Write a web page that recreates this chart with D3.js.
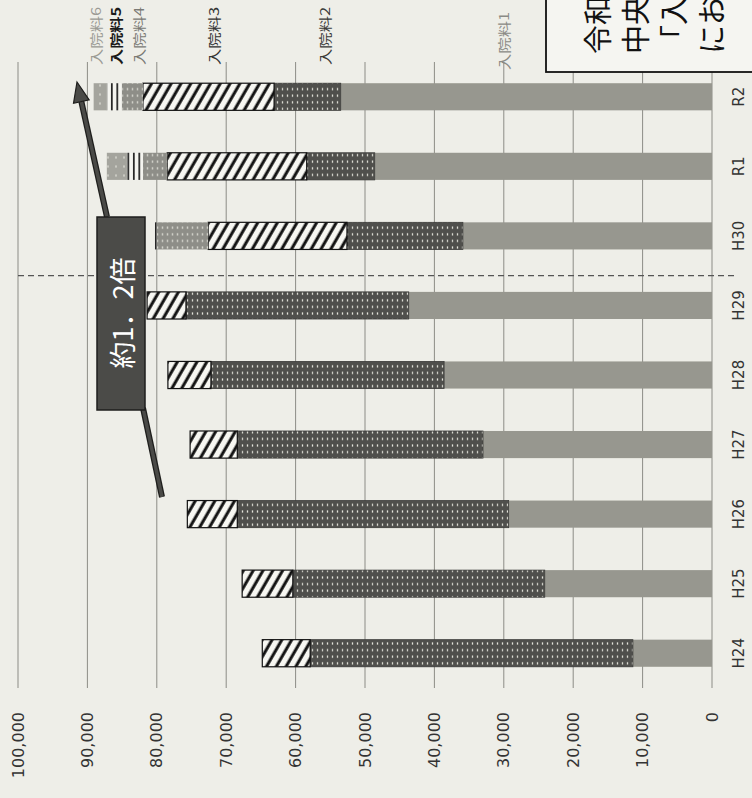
<!DOCTYPE html>
<html>
<head>
<meta charset="utf-8">
<script src="https://cdn.jsdelivr.net/npm/d3@7"></script>
<style>
  body { margin: 0; background: #eeeee8; }
  svg { display: block; }
</style>
</head>
<body>
<script>
// chart is a scanned page turned a quarter turn: values run right-to-left, years bottom-to-top
var categories = ["H24", "H25", "H26", "H27", "H28", "H29", "H30", "R1", "R2"];
var seriesNames = ["入院料1", "入院料2", "入院料3", "入院料4", "入院料5", "入院料6"];

var nyuin1 = [11400, 24100, 29300, 33000, 38600, 43700, 35900, 48600, 53500];
var nyuin2 = [46500, 36300, 39100, 35400, 33600, 32100, 16700, 9800, 9600];
var nyuin3 = [6900, 7300, 7200, 6800, 6200, 5600, 20000, 20100, 18900];
var nyuin4 = [0, 0, 0, 0, 0, 0, 7400, 3500, 3000];
var nyuin5 = [0, 0, 0, 0, 0, 0, 400, 2300, 2200];
var nyuin6 = [0, 0, 0, 0, 0, 0, 0, 2900, 1900];

var valueTicks = [0, 10000, 20000, 30000, 40000, 50000, 60000, 70000, 80000, 90000, 100000];
// where each series name sits along the value axis
var labelValues = [30100, 55900, 71800, 82700, 85900, 88900];

var width = 752;
var height = 798;

var svg = d3.select("body")
  .append("svg")
  .attr("width", width)
  .attr("height", height);

var x = d3.scaleLinear().domain([0, 100000]).range([712, 18]);
var y = d3.scaleBand()
  .domain(categories)
  .range([688, 62])
  .paddingInner(0.61)
  .paddingOuter(0.305);

// patterns
var defs = svg.append("defs");

function dots(id, w, h, base, dot, dw, dh) {
  var p = defs.append("pattern")
    .attr("id", id)
    .attr("patternUnits", "userSpaceOnUse")
    .attr("width", w)
    .attr("height", h);
  p.append("rect").attr("width", w).attr("height", h).attr("fill", base);
  p.append("rect").attr("x", w / 2 - dw / 2).attr("y", h / 2 - dh / 2)
    .attr("width", dw).attr("height", dh).attr("fill", dot);
}
dots("p2", 5, 6.6, "#4f4f4c", "#e4e4dc", 1.3, 2.2);
dots("p4", 5, 6.6, "#8e8e88", "#d4d4cc", 1.5, 2.2);
dots("p6", 8, 9, "#a4a49d", "#d2d2ca", 1.6, 2.2);

var hatch = defs.append("pattern")
  .attr("id", "p3")
  .attr("patternUnits", "userSpaceOnUse")
  .attr("width", 8.5)
  .attr("height", 8.5)
  .attr("patternTransform", "rotate(30)");
hatch.append("rect").attr("width", 8.5).attr("height", 8.5).attr("fill", "#f7f7f2");
hatch.append("line").attr("x1", 3).attr("y1", -1).attr("x2", 3).attr("y2", 9.5)
  .attr("stroke", "#111").attr("stroke-width", 3);

var lines5 = defs.append("pattern")
  .attr("id", "p5")
  .attr("patternUnits", "userSpaceOnUse")
  .attr("width", 5.5)
  .attr("height", 10);
lines5.append("rect").attr("width", 5.5).attr("height", 10).attr("fill", "#f4f4ef");
lines5.append("rect").attr("x", 1).attr("width", 1.6).attr("height", 10).attr("fill", "#111");

var fills = ["#97978f", "url(#p2)", "url(#p3)", "url(#p4)", "url(#p5)", "url(#p6)"];
var strokes = ["none", "#3a3a38", "#111", "none", "none", "none"];
var labelColors = ["#8a8a85", "#3a3a38", "#333", "#7a7a75", "#1a1a1a", "#9a9a94"];

// grid
svg.append("g")
  .selectAll("line")
  .data(valueTicks)
  .enter()
  .append("line")
  .attr("x1", function (d) { return x(d); })
  .attr("x2", function (d) { return x(d); })
  .attr("y1", 62)
  .attr("y2", 688)
  .attr("stroke", "#8c8c86")
  .attr("stroke-width", 1);

// value tick labels, turned
svg.append("g")
  .selectAll("text")
  .data(valueTicks)
  .enter()
  .append("text")
  .text(function (d) { return d3.format(",")(d); })
  .attr("transform", function (d) { return "translate(" + x(d) + ",712) rotate(-90)"; })
  .attr("text-anchor", "end")
  .attr("dominant-baseline", "central")
  .attr("font-family", "DejaVu Sans")
  .attr("font-size", 16)
  .attr("fill", "#333");

// stacked bars
var rows = categories.map(function (c, i) {
  return {
    cat: c,
    "入院料1": nyuin1[i], "入院料2": nyuin2[i], "入院料3": nyuin3[i],
    "入院料4": nyuin4[i], "入院料5": nyuin5[i], "入院料6": nyuin6[i]
  };
});
var stacked = d3.stack().keys(seriesNames)(rows);

svg.append("g")
  .selectAll("g")
  .data(stacked)
  .enter()
  .append("g")
  .attr("fill", function (d, i) { return fills[i]; })
  .attr("stroke", function (d, i) { return strokes[i]; })
  .attr("stroke-width", function (d, i) { return i == 2 ? 1.2 : 0.8; })
  .selectAll("rect")
  .data(function (d) { return d.filter(function (s) { return s[1] - s[0] > 0; }); })
  .enter()
  .append("rect")
  .attr("x", function (d) { return x(d[1]); })
  .attr("width", function (d) { return x(d[0]) - x(d[1]); })
  .attr("y", function (d) { return y(d.data.cat); })
  .attr("height", y.bandwidth());

// category labels
svg.append("g")
  .selectAll("text")
  .data(categories)
  .enter()
  .append("text")
  .text(function (d) { return d; })
  .attr("transform", function (d) {
    return "translate(739," + (y(d) + y.bandwidth() / 2) + ") rotate(-90)";
  })
  .attr("text-anchor", "middle")
  .attr("dominant-baseline", "central")
  .attr("font-family", "DejaVu Sans")
  .attr("font-size", 15)
  .attr("fill", "#333");

// dashed divider between H29 and H30
var divY = y("H30") + y.bandwidth() + (y.step() - y.bandwidth()) / 2 + 5;
svg.append("line")
  .attr("x1", x(100000))
  .attr("x2", 736)
  .attr("y1", divY)
  .attr("y2", divY)
  .attr("stroke", "#555")
  .attr("stroke-width", 1.4)
  .attr("stroke-dasharray", "6,4");

// series names at the top
svg.append("g")
  .selectAll("text")
  .data(seriesNames)
  .enter()
  .append("text")
  .text(function (d) { return d; })
  .attr("transform", function (d, i) {
    return "translate(" + x(labelValues[i]) + "," + (i == 0 ? 70 : 65) + ") rotate(-90)";
  })
  .attr("dominant-baseline", "central")
  .attr("font-family", "Noto Sans CJK JP")
  .attr("font-size", 13)
  .attr("font-weight", function (d, i) { return i == 4 ? "bold" : "normal"; })
  .attr("textLength", 58)
  .attr("lengthAdjust", "spacingAndGlyphs")
  .attr("fill", function (d, i) { return labelColors[i]; });

// arrow and "約1．2倍" callout
function thickLine(x1, y1, x2, y2) {
  svg.append("line").attr("x1", x1).attr("y1", y1).attr("x2", x2).attr("y2", y2)
    .attr("stroke", "#1e1e1c").attr("stroke-width", 6);
  svg.append("line").attr("x1", x1).attr("y1", y1).attr("x2", x2).attr("y2", y2)
    .attr("stroke", "#4a4a47").attr("stroke-width", 3.5);
}
var tip = [77, 82];
var tail = [107, 217];
var dx = tip[0] - tail[0], dy = tip[1] - tail[1];
var len = Math.sqrt(dx * dx + dy * dy);
var ux = dx / len, uy = dy / len;
var bx = tip[0] - ux * 20, by = tip[1] - uy * 20;
thickLine(tail[0], tail[1], bx, by);
svg.append("path")
  .attr("d", "M" + tip[0] + "," + tip[1] +
    "L" + (bx - uy * 8) + "," + (by + ux * 8) +
    "L" + (bx + uy * 8) + "," + (by - ux * 8) + "Z")
  .attr("fill", "#4a4a47")
  .attr("stroke", "#1e1e1c")
  .attr("stroke-width", 1.2);
thickLine(143, 408, 162, 497);

svg.append("rect")
  .attr("x", 97).attr("y", 217)
  .attr("width", 48).attr("height", 193)
  .attr("fill", "#4b4b48")
  .attr("stroke", "#1e1e1c")
  .attr("stroke-width", 1.5);
svg.append("text")
  .text("約1．2倍")
  .attr("transform", "translate(121,313) rotate(-90)")
  .attr("text-anchor", "middle")
  .attr("dominant-baseline", "central")
  .attr("font-family", "Noto Sans CJK JP")
  .attr("font-size", 27)
  .attr("fill", "#fff");

// note box, cut off at the page edge
svg.append("rect")
  .attr("x", 546).attr("y", -5)
  .attr("width", 230).attr("height", 77)
  .attr("fill", "#f5f5f1")
  .attr("stroke", "#111")
  .attr("stroke-width", 1.8);
var noteLines = ["令和", "中央", "「入", "にお"];
svg.append("g")
  .selectAll("text")
  .data(noteLines)
  .enter()
  .append("text")
  .text(function (d) { return d; })
  .attr("transform", function (d, i) { return "translate(" + (596 + i * 38) + ",54) rotate(-90)"; })
  .attr("dominant-baseline", "central")
  .attr("font-family", "Noto Sans CJK JP")
  .attr("font-size", 29)
  .attr("fill", "#111");
</script>
</body>
</html>
